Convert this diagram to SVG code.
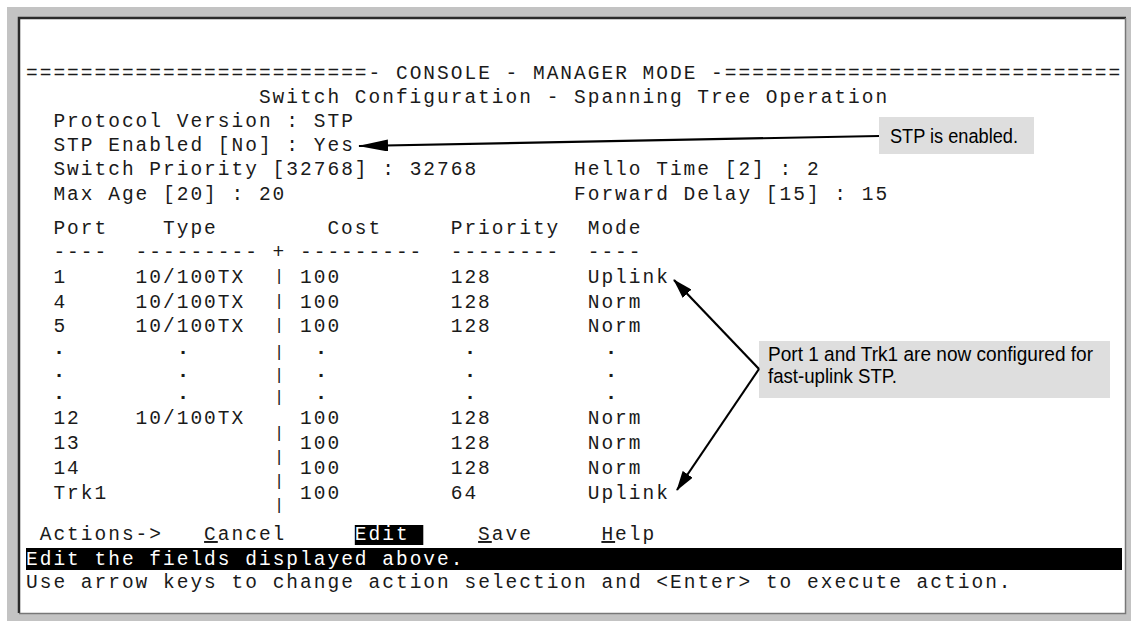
<svg xmlns="http://www.w3.org/2000/svg" width="1131" height="621" viewBox="0 0 1131 621">
<defs>
<style>
.t{font-family:"Courier New","Liberation Mono",monospace;font-size:19.5px;letter-spacing:2px;fill:#1a1a1a}
.inv{fill:#fff}
.bar{font-family:"Liberation Mono",monospace;font-size:17px;fill:#1a1a1a;text-anchor:middle}
.dot{font-family:"Liberation Mono",monospace;font-size:21px;font-weight:bold;fill:#1a1a1a;text-anchor:middle}
.c{font-family:"Liberation Sans",Arial,sans-serif;font-size:20.5px;fill:#000}
.box{fill:#dedede}
.ar{stroke:#000;stroke-width:2.2;fill:none}
.u{text-decoration:underline}
</style>
<marker id="headL" markerUnits="userSpaceOnUse" markerWidth="30" markerHeight="12" viewBox="0 0 30 12" refX="29" refY="6" orient="auto"><path d="M0,0L30,6L0,12z" fill="#000"/></marker>
<marker id="headS" markerUnits="userSpaceOnUse" markerWidth="20" markerHeight="12" viewBox="0 0 20 12" refX="19" refY="6" orient="auto"><path d="M0,0L20,6L0,12z" fill="#000"/></marker>
</defs>
<rect x="0" y="0" width="1131" height="621" fill="#fff"/>
<g id="terminal">
<rect x="7" y="7" width="1124" height="614" fill="#c3c3c3"/>
<rect x="19" y="18" width="1106" height="595" fill="#fff"/>
<polyline points="19,613 19,18 1126,18" fill="none" stroke="#2a2a2a" stroke-width="2.5"/>
<polyline points="19,613.5 1125.5,613.5 1125.5,18" fill="none" stroke="#777" stroke-width="1.5"/>
<text class="t" x="26" y="79">=========================- CONSOLE - MANAGER MODE -=============================</text>
<text class="t" x="258.9" y="103">Switch Configuration - Spanning Tree Operation</text>
<text class="t" x="53.4" y="127">Protocol Version : STP</text>
<text class="t" x="53.4" y="151">STP Enabled [No] : Yes</text>
<text class="t" y="175"><tspan x="53.4">Switch Priority [32768] : 32768</tspan><tspan x="574">Hello Time [2] : 2</tspan></text>
<text class="t" y="200"><tspan x="53.4">Max Age [20] : 20</tspan><tspan x="574">Forward Delay [15] : 15</tspan></text>
<text class="t" y="234"><tspan x="53.4">Port</tspan><tspan x="163">Type</tspan><tspan x="327.4">Cost</tspan><tspan x="450.7">Priority</tspan><tspan x="587.7">Mode</tspan></text>
<text class="t" y="258"><tspan x="53.4">----</tspan><tspan x="135.6">---------</tspan><tspan x="272.6">+</tspan><tspan x="300">---------</tspan><tspan x="450.7">--------</tspan><tspan x="587.7">----</tspan></text>
<text class="t" y="283"><tspan x="53.4">1</tspan><tspan x="135.6">10/100TX</tspan><tspan x="300">100</tspan><tspan x="450.7">128</tspan><tspan x="587.7">Uplink</tspan></text>
<text class="t" y="308"><tspan x="53.4">4</tspan><tspan x="135.6">10/100TX</tspan><tspan x="300">100</tspan><tspan x="450.7">128</tspan><tspan x="587.7">Norm</tspan></text>
<text class="t" y="332"><tspan x="53.4">5</tspan><tspan x="135.6">10/100TX</tspan><tspan x="300">100</tspan><tspan x="450.7">128</tspan><tspan x="587.7">Norm</tspan></text>
<text class="dot" y="354"><tspan x="59">.</tspan><tspan x="183">.</tspan><tspan x="321">.</tspan><tspan x="470">.</tspan><tspan x="611">.</tspan></text>
<text class="dot" y="377"><tspan x="59">.</tspan><tspan x="183">.</tspan><tspan x="321">.</tspan><tspan x="470">.</tspan><tspan x="611">.</tspan></text>
<text class="dot" y="399"><tspan x="59">.</tspan><tspan x="183">.</tspan><tspan x="321">.</tspan><tspan x="470">.</tspan><tspan x="611">.</tspan></text>
<text class="t" y="424"><tspan x="53.4">12</tspan><tspan x="135.6">10/100TX</tspan><tspan x="300">100</tspan><tspan x="450.7">128</tspan><tspan x="587.7">Norm</tspan></text>
<text class="t" y="449"><tspan x="53.4">13</tspan><tspan x="300">100</tspan><tspan x="450.7">128</tspan><tspan x="587.7">Norm</tspan></text>
<text class="t" y="474"><tspan x="53.4">14</tspan><tspan x="300">100</tspan><tspan x="450.7">128</tspan><tspan x="587.7">Norm</tspan></text>
<text class="t" y="499"><tspan x="53.4">Trk1</tspan><tspan x="300">100</tspan><tspan x="450.7">64</tspan><tspan x="587.7">Uplink</tspan></text>
<text class="bar" x="279" y="281">|</text>
<text class="bar" x="279" y="306">|</text>
<text class="bar" x="279" y="330">|</text>
<text class="bar" x="279" y="357">|</text>
<text class="bar" x="279" y="380">|</text>
<text class="bar" x="279" y="402">|</text>
<text class="bar" x="279" y="438">|</text>
<text class="bar" x="279" y="462">|</text>
<text class="bar" x="279" y="486">|</text>
<text class="bar" x="279" y="510">|</text>
<rect x="354.8" y="525" width="68.5" height="20" fill="#000"/>
<text class="t" y="540"><tspan x="39.7">Actions-&gt;</tspan><tspan x="204.1"><tspan class="u">C</tspan>ancel</tspan><tspan x="354.8" class="inv">Edit</tspan><tspan x="478.1"><tspan class="u">S</tspan>ave</tspan><tspan x="601.4"><tspan class="u">H</tspan>elp</tspan></text>
<rect x="26" y="548" width="1096" height="22" fill="#000"/>
<text class="t inv" x="26" y="565">Edit the fields displayed above.</text>
<text class="t" x="26" y="588">Use arrow keys to change action selection and &lt;Enter&gt; to execute action.</text>
</g>
<g id="callout-stp">
<rect class="box" x="879" y="117" width="155" height="37"/>
<text class="c" x="890" y="143" textLength="128" lengthAdjust="spacingAndGlyphs">STP is enabled.</text>
</g>
<g id="callout-uplink">
<rect class="box" x="759" y="341" width="351" height="57"/>
<text class="c" x="768" y="361" textLength="325" lengthAdjust="spacingAndGlyphs">Port 1 and Trk1 are now configured for</text>
<text class="c" x="768" y="383" textLength="129" lengthAdjust="spacingAndGlyphs">fast-uplink STP.</text>
</g>
<g id="connectors">
<line class="ar" x1="879" y1="136" x2="359" y2="146" stroke-width="2.5" marker-end="url(#headL)"/>
<line class="ar" x1="759" y1="369" x2="674" y2="280" marker-end="url(#headS)"/>
<line class="ar" x1="759" y1="369" x2="677" y2="490" marker-end="url(#headS)"/>
</g>
</svg>
